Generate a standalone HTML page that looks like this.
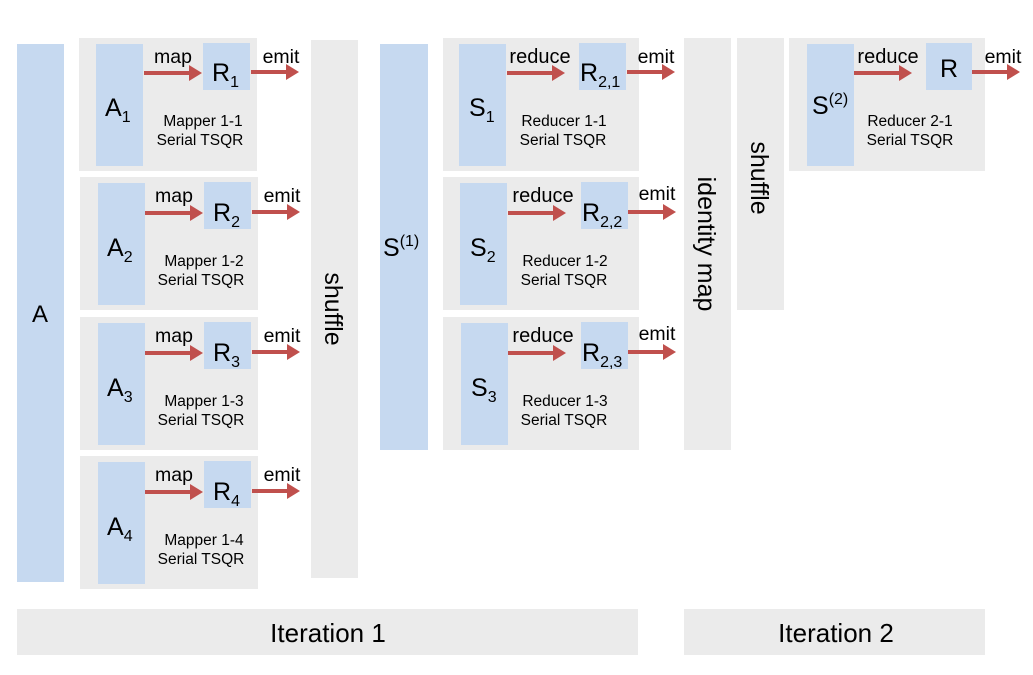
<!DOCTYPE html>
<html><head><meta charset="utf-8"><style>
html,body{margin:0;padding:0;background:#fff;}
svg{display:block;font-family:"Liberation Sans",Arial,sans-serif;}
</style></head><body>
<svg width="1033" height="675" viewBox="0 0 1033 675" xmlns="http://www.w3.org/2000/svg">
<defs>
<g id="arr"><rect x="0" y="-2" width="46" height="4" fill="#c0504d"/><polygon points="45,-8 58,0 45,8" fill="#c0504d"/></g>
<g id="arr2"><rect x="0" y="-2" width="36" height="4" fill="#c0504d"/><polygon points="35,-8 48,0 35,8" fill="#c0504d"/></g>
</defs>
<rect x="17" y="44" width="47" height="538" fill="#c6d9f0"/>
<text x="40" y="322" font-size="24" text-anchor="middle">A</text>

<g>
<rect x="79" y="38" width="178" height="133" fill="#ebebeb"/>
<rect x="96" y="44" width="47" height="122" fill="#c6d9f0"/>
<rect x="203" y="43" width="47" height="47" fill="#c6d9f0"/>
<use href="#arr" x="144" y="73"/><use href="#arr2" x="251" y="72"/>
<text x="173" y="63" font-size="19.5" text-anchor="middle">map</text>
<text x="281" y="63" font-size="19.5" text-anchor="middle">emit</text>
<text x="105" y="116" font-size="25">A<tspan font-size="16" dy="6">1</tspan></text>
<text x="212" y="81" font-size="25">R<tspan font-size="16" dy="6">1</tspan></text>
<text x="203" y="126" font-size="15.5" text-anchor="middle">Mapper 1-1</text>
<text x="200" y="145" font-size="15.5" text-anchor="middle">Serial TSQR</text>
</g>
<g transform="translate(1,139)">
<rect x="79" y="38" width="178" height="133" fill="#ebebeb"/>
<rect x="97" y="44" width="47" height="122" fill="#c6d9f0"/>
<rect x="203" y="43" width="47" height="47" fill="#c6d9f0"/>
<use href="#arr" x="144" y="74"/><use href="#arr2" x="251" y="73"/>
<text x="173" y="63" font-size="19.5" text-anchor="middle">map</text>
<text x="281" y="63" font-size="19.5" text-anchor="middle">emit</text>
<text x="106" y="117" font-size="25">A<tspan font-size="16" dy="6">2</tspan></text>
<text x="212" y="82" font-size="25">R<tspan font-size="16" dy="6">2</tspan></text>
<text x="203" y="127" font-size="15.5" text-anchor="middle">Mapper 1-2</text>
<text x="200" y="146" font-size="15.5" text-anchor="middle">Serial TSQR</text>
</g>
<g transform="translate(1,279)">
<rect x="79" y="38" width="178" height="133" fill="#ebebeb"/>
<rect x="97" y="44" width="47" height="122" fill="#c6d9f0"/>
<rect x="203" y="43" width="47" height="47" fill="#c6d9f0"/>
<use href="#arr" x="144" y="74"/><use href="#arr2" x="251" y="73"/>
<text x="173" y="63" font-size="19.5" text-anchor="middle">map</text>
<text x="281" y="63" font-size="19.5" text-anchor="middle">emit</text>
<text x="106" y="117" font-size="25">A<tspan font-size="16" dy="6">3</tspan></text>
<text x="212" y="82" font-size="25">R<tspan font-size="16" dy="6">3</tspan></text>
<text x="203" y="127" font-size="15.5" text-anchor="middle">Mapper 1-3</text>
<text x="200" y="146" font-size="15.5" text-anchor="middle">Serial TSQR</text>
</g>
<g transform="translate(1,418)">
<rect x="79" y="38" width="178" height="133" fill="#ebebeb"/>
<rect x="97" y="44" width="47" height="122" fill="#c6d9f0"/>
<rect x="203" y="43" width="47" height="47" fill="#c6d9f0"/>
<use href="#arr" x="144" y="74"/><use href="#arr2" x="251" y="73"/>
<text x="173" y="63" font-size="19.5" text-anchor="middle">map</text>
<text x="281" y="63" font-size="19.5" text-anchor="middle">emit</text>
<text x="106" y="117" font-size="25">A<tspan font-size="16" dy="6">4</tspan></text>
<text x="212" y="82" font-size="25">R<tspan font-size="16" dy="6">4</tspan></text>
<text x="203" y="127" font-size="15.5" text-anchor="middle">Mapper 1-4</text>
<text x="200" y="146" font-size="15.5" text-anchor="middle">Serial TSQR</text>
</g>

<rect x="311" y="40" width="47" height="538" fill="#ebebeb"/>
<text transform="translate(325,309) rotate(90)" font-size="25" text-anchor="middle">shuffle</text>

<rect x="380" y="44" width="48" height="406" fill="#c6d9f0"/>
<text x="383" y="256" font-size="25">S<tspan font-size="16" dy="-10">(1)</tspan></text>

<g>
<rect x="443" y="38" width="196" height="133" fill="#ebebeb"/>
<rect x="459" y="44" width="47" height="122" fill="#c6d9f0"/>
<rect x="579" y="43" width="47" height="47" fill="#c6d9f0"/>
<use href="#arr" x="507" y="73"/><use href="#arr2" x="627" y="72"/>
<text x="540" y="63" font-size="20" text-anchor="middle">reduce</text>
<text x="656" y="63" font-size="19.5" text-anchor="middle">emit</text>
<text x="469" y="116" font-size="25">S<tspan font-size="16" dy="6">1</tspan></text>
<text x="580" y="81" font-size="25">R<tspan font-size="16" dy="6">2,1</tspan></text>
<text x="564" y="126" font-size="15.5" text-anchor="middle">Reducer 1-1</text>
<text x="563" y="145" font-size="15.5" text-anchor="middle">Serial TSQR</text>
</g>
<g transform="translate(1,139)">
<rect x="442" y="38" width="196" height="133" fill="#ebebeb"/>
<rect x="459" y="44" width="47" height="122" fill="#c6d9f0"/>
<rect x="580" y="43" width="47" height="47" fill="#c6d9f0"/>
<use href="#arr" x="507" y="74"/><use href="#arr2" x="627" y="73"/>
<text x="542" y="63" font-size="20" text-anchor="middle">reduce</text>
<text x="656" y="61" font-size="19.5" text-anchor="middle">emit</text>
<text x="469" y="117" font-size="25">S<tspan font-size="16" dy="6">2</tspan></text>
<text x="581" y="82" font-size="25">R<tspan font-size="16" dy="6">2,2</tspan></text>
<text x="564" y="127" font-size="15.5" text-anchor="middle">Reducer 1-2</text>
<text x="563" y="146" font-size="15.5" text-anchor="middle">Serial TSQR</text>
</g>
<g transform="translate(1,279)">
<rect x="442" y="38" width="196" height="133" fill="#ebebeb"/>
<rect x="460" y="44" width="47" height="122" fill="#c6d9f0"/>
<rect x="580" y="43" width="47" height="47" fill="#c6d9f0"/>
<use href="#arr" x="507" y="74"/><use href="#arr2" x="627" y="73"/>
<text x="542" y="63" font-size="20" text-anchor="middle">reduce</text>
<text x="656" y="61" font-size="19.5" text-anchor="middle">emit</text>
<text x="470" y="117" font-size="25">S<tspan font-size="16" dy="6">3</tspan></text>
<text x="581" y="82" font-size="25">R<tspan font-size="16" dy="6">2,3</tspan></text>
<text x="564" y="127" font-size="15.5" text-anchor="middle">Reducer 1-3</text>
<text x="563" y="146" font-size="15.5" text-anchor="middle">Serial TSQR</text>
</g>

<rect x="684" y="38" width="47" height="412" fill="#ebebeb"/>
<text transform="translate(698,244) rotate(90)" font-size="25" text-anchor="middle">identity map</text>

<rect x="737" y="38" width="47" height="272" fill="#ebebeb"/>
<text transform="translate(751,178) rotate(90)" font-size="25" text-anchor="middle">shuffle</text>

<rect x="789" y="38" width="196" height="133" fill="#ebebeb"/>
<rect x="807" y="44" width="47" height="122" fill="#c6d9f0"/>
<rect x="926" y="43" width="46" height="47" fill="#c6d9f0"/>
<use href="#arr" x="854" y="73"/><use href="#arr2" x="972" y="72"/>
<text x="888" y="63" font-size="20" text-anchor="middle">reduce</text>
<text x="1003" y="63" font-size="19.5" text-anchor="middle">emit</text>
<text x="812" y="114" font-size="25">S<tspan font-size="16" dy="-10">(2)</tspan></text>
<text x="949" y="77" font-size="25" text-anchor="middle">R</text>
<text x="910" y="126" font-size="15.5" text-anchor="middle">Reducer 2-1</text>
<text x="910" y="145" font-size="15.5" text-anchor="middle">Serial TSQR</text>

<rect x="17" y="609" width="621" height="46" fill="#ebebeb"/>
<text x="328" y="642" font-size="26" text-anchor="middle">Iteration 1</text>
<rect x="684" y="609" width="301" height="46" fill="#ebebeb"/>
<text x="836" y="642" font-size="26" text-anchor="middle">Iteration 2</text>
</svg>
</body></html>
